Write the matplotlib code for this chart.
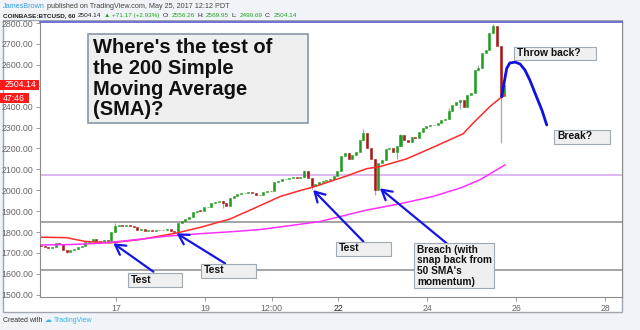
import numpy as np
import matplotlib.pyplot as plt
from matplotlib.patches import Rectangle
from matplotlib.transforms import blended_transform_factory

plt.rcParams['font.family'] = ['Liberation Sans', 'DejaVu Sans']

# --- data (2h candles, May 15 -> May 25) ---
open0 = 1740
closes = [1735, 1728, 1722, 1730, 1748, 1742,
          1716, 1706, 1712,
          1720, 1728, 1735,
          1750, 1758, 1765,
          1756, 1752, 1760, 1758,
          1800,
          1828, 1835, 1830, 1833,
          1828, 1822, 1812, 1815,
          1806, 1808, 1804, 1810, 1808,
          1812, 1815, 1806, 1800,
          1845, 1852, 1862, 1870,
          1895, 1902, 1900,
          1918, 1922, 1940, 1946,
          1950, 1940, 1925,
          1962, 1970, 1980, 1985,
          1986, 1990, 1988, 1978,
          1975, 1990, 1995,
          1994, 2040, 2045,
          2052, 2055, 2060, 2064,
          2058, 2065, 2090,
          2060, 2020, 2030,
          2038, 2045, 2050,
          2052, 2070, 2090,
          2165, 2176, 2150,
          2170, 2185, 2240,
          2275, 2200, 2150,
          2000,
          2128, 2145, 2195,
          2200, 2185, 2210,
          2262, 2240, 2232,
          2255, 2250, 2280,
          2300, 2305, 2310,
          2312, 2320, 2335,
          2340, 2380, 2408,
          2420, 2430, 2398,
          2455, 2465, 2575,
          2585, 2655, 2672,
          2750, 2785, 2690, 2450, 2504]
wick_hi = {20: 1842, 71: 2098, 87: 2292, 97: 2270, 110: 2392, 118: 2600, 122: 2795}
wick_lo = {7: 1698, 49: 1915, 73: 2005, 90: 1977, 96: 2150, 113: 2388, 124: 2226}

sma50_day = [15.33, 15.89, 16.30, 16.87, 17.54, 18.36, 18.89, 19.56, 20.12, 20.69, 21.13,
             21.43, 22.18, 22.63, 22.93, 23.53, 24.12, 24.80, 25.02, 25.40, 25.63, 25.74]
sma50_val = [1775, 1773, 1755, 1748, 1764, 1795, 1822, 1862, 1915, 1970, 1998,
             2015, 2068, 2103, 2113, 2150, 2205, 2270, 2320, 2400, 2440, 2455]
sma200_day = [15.33, 15.97, 16.64, 17.31, 18.14, 18.89, 19.63, 20.24, 20.75, 21.58,
              22.63, 23.38, 24.12, 24.73, 25.18, 25.74]
sma200_val = [1738, 1740, 1746, 1760, 1780, 1792, 1802, 1812, 1826, 1850,
              1905, 1935, 1970, 2010, 2050, 2121]

hlines_gray = [1847, 1620]
hline_purple = 2075

proj_day = [25.67, 25.70, 25.78, 25.85, 25.97, 26.08, 26.19, 26.30, 26.45, 26.57, 26.68]
proj_val = [2447, 2489, 2583, 2609, 2613, 2604, 2575, 2527, 2447, 2384, 2312]

xtick_pos = [17, 19, 20.5, 22, 24, 26, 28]
xtick_lab = ['17', '19', '12:00', '22', '24', '26', '28']
last_price = 2504.14

W, H = 640, 330
fig = plt.figure(figsize=(6.4, 3.3), dpi=100)
fig.patch.set_facecolor('#f0f3f7')

# white chart panel
fig.add_artist(Rectangle((3 / W, 18 / H), 619 / W, 292 / H, transform=fig.transFigure,
                         facecolor='white', edgecolor='#a0a6ae', lw=1, zorder=-1))

ax = fig.add_axes([40 / W, 33 / H, 582 / W, 275 / H])
ax.set_xlim(15.292, 28.371)
ax.set_ylim(1489, 2805)
ax.set_facecolor('white')
for s in ['left', 'bottom', 'right']:
    ax.spines[s].set_color('#8c8c8c')
    ax.spines[s].set_linewidth(0.8)
ax.spines['top'].set_color('#5a5acc')
ax.spines['top'].set_linewidth(1.2)

yt = np.arange(1500, 2801, 100)
ax.set_yticks(yt)
ax.set_yticklabels(['' if v == 2500 else '%.2f' % v for v in yt])
ax.set_xticks(xtick_pos)
ax.set_xticklabels(xtick_lab)
ax.tick_params(axis='both', colors='#8c8c8c', labelcolor='#666666', labelsize=6.3,
               length=3, width=0.6, pad=2)
ax.get_xticklabels()[3].set_color('#222222')

# horizontal levels
for h in hlines_gray:
    ax.axhline(h, color='#8c8c8c', lw=1.1, zorder=1)
ax.axhline(hline_purple, color='#d8a8f0', lw=1.2, zorder=1)

# candles
n = len(closes)
days = 15.31 + np.arange(n) / 12.0
opens = [open0] + closes[:-1]
for i in range(n):
    o, c = opens[i], closes[i]
    lo_b, hi_b = min(o, c), max(o, c)
    hi = wick_hi.get(i, hi_b)
    lo = wick_lo.get(i, lo_b)
    if hi > hi_b or lo < lo_b:
        ax.vlines(days[i], lo, hi, color='#a8a8a8', lw=0.9, zorder=2)
    col = '#1f9d1f' if c >= o else '#a81818'
    ax.bar(days[i], max(hi_b - lo_b, 4), bottom=lo_b, width=0.045,
           color=col, edgecolor=col, lw=0.4, zorder=3)

# moving averages
ax.plot(sma50_day, sma50_val, color='#ff2a2a', lw=1.1, zorder=4)
ax.plot(sma200_day, sma200_val, color='#ff30ff', lw=1.1, zorder=4)

# projection curve
ax.plot(proj_day, proj_val, color='#1010e0', lw=2, zorder=6, solid_capstyle='round')

# arrows
arrows = [((17.84, 1610), (16.94, 1746)),
          ((19.45, 1650), (18.36, 1794)),
          ((22.56, 1754), (21.43, 2001)),
          ((24.43, 1746), (22.93, 2009))]
for tail, tip in arrows:
    ax.annotate('', xy=tip, xytext=tail,
                arrowprops=dict(arrowstyle='->,head_length=0.7,head_width=0.4',
                                color='#1515e6', lw=1.6, shrinkA=0, shrinkB=0),
                zorder=6)

# annotation boxes: (x0, x1, y_bottom, y_top, text, fontsize)
boxes = [(17.26, 18.49, 1535, 1602, 'Test', 7.5),
         (18.91, 20.15, 1578, 1646, 'Test', 7.5),
         (21.94, 23.18, 1685, 1754, 'Test', 7.5),
         (23.70, 25.50, 1531, 1746, "Breach (with\nsnap back from\n50 SMA's\nmomentum)", 7.3),
         (25.95, 27.78, 2623, 2687, 'Throw back?', 7.4),
         (26.85, 28.10, 2221, 2288, 'Break?', 7.4)]
for x0, x1, y0, y1, txt, fs in boxes:
    ax.add_patch(Rectangle((x0, y0), x1 - x0, y1 - y0, facecolor='#efefef',
                           edgecolor='#a0a8b2', lw=0.8, zorder=7, clip_on=False))
    ax.text(x0 + 0.07, y1 - 6, txt, fontsize=fs, fontweight='bold', color='#111111',
            va='top', ha='left', linespacing=1.1, zorder=8)

ax.add_patch(Rectangle((16.38, 2320), 4.94, 427, facecolor='#efefef',
                       edgecolor='#8a97a8', lw=1.2, zorder=7))
ax.text(16.48, 2728, "Where's the test of\nthe 200 Simple\nMoving Average\n(SMA)?",
        fontsize=14.5, fontweight='bold', color='#111111', va='top', ha='left',
        linespacing=1.12, zorder=8)

# price labels on the axis
bt = blended_transform_factory(ax.transAxes, ax.transData)
ax.add_patch(Rectangle((-40 / 582, last_price - 24), 39 / 582, 48, transform=bt,
                       facecolor='#ff1a1a', edgecolor='none', clip_on=False, zorder=9))
ax.text(-20 / 582, last_price, '%.2f' % last_price, transform=bt, color='white',
        fontsize=6.3, ha='center', va='center', zorder=10, clip_on=False)
ax.add_patch(Rectangle((-40 / 582, last_price - 87), 29 / 582, 48, transform=bt,
                       facecolor='#ff1a1a', edgecolor='none', clip_on=False, zorder=9))
ax.text(-26 / 582, last_price - 63, '47:46', transform=bt, color='white',
        fontsize=6.3, ha='center', va='center', zorder=10, clip_on=False)

# header and footer
fig.add_artist(Rectangle((0, 1 - 20 / H), 1, 20 / H, transform=fig.transFigure,
                         facecolor='#f0f3f7', edgecolor='none', zorder=3))
renderer = fig.canvas.get_renderer()


def chain(x_px, y_px, parts, fs, gap=2):
    x = x_px
    for s, col, wt in parts:
        t = fig.text(x / W, 1 - y_px / H, s, color=col, fontweight=wt, fontsize=fs,
                     va='center', ha='left', zorder=5)
        x += t.get_window_extent(renderer).width + gap


chain(3, 6, [('JamesBrown', '#3ca0e0', 'normal'),
             ('published on TradingView.com, May 25, 2017 12:12 PDT', '#444444', 'normal')], 5.2)
chain(3, 15.5, [('COINBASE:BTCUSD, 60', '#222222', 'bold'),
                ('2504.14', '#222222', 'normal'),
                ('\u25b2', '#22a022', 'normal'),
                ('+71.17 (+2.93%)', '#22a022', 'normal'),
                ('O:', '#222222', 'normal'), ('2556.26', '#22a022', 'normal'),
                ('H:', '#222222', 'normal'), ('2569.95', '#22a022', 'normal'),
                ('L:', '#222222', 'normal'), ('2499.69', '#22a022', 'normal'),
                ('C:', '#222222', 'normal'), ('2504.14', '#22a022', 'normal')], 4.6, 2.5)
chain(3, 321, [('Created with', '#333333', 'normal'),
               ('\u2601', '#3bb3e4', 'normal'),
               ('TradingView', '#3bb3e4', 'normal')], 5)

fig.savefig('out.png', dpi=100)
